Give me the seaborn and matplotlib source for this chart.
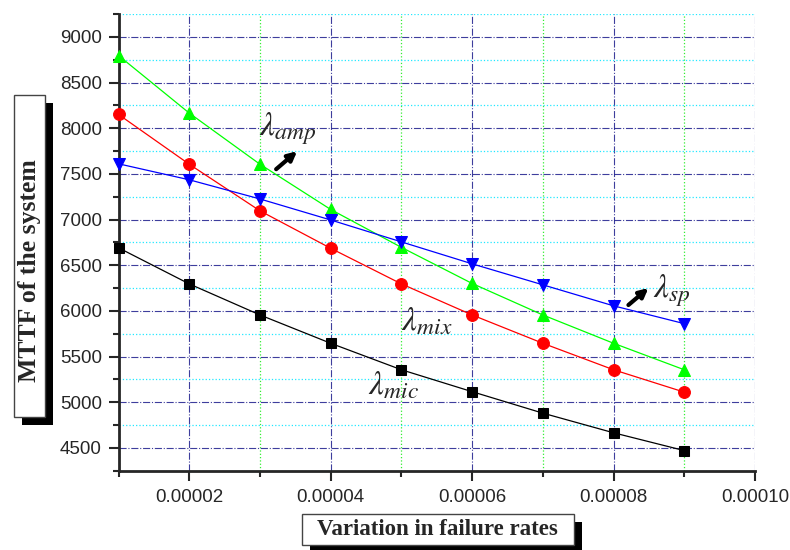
import matplotlib
matplotlib.use("Agg")
import matplotlib.pyplot as plt
import matplotlib.ticker as mticker
from matplotlib.patches import Rectangle
import seaborn as sns

# failure-rate variation (x) and MTTF of each component case
rates = [0.00001, 0.00002, 0.00003, 0.00004, 0.00005, 0.00006, 0.00007, 0.00008, 0.00009]
mttf_mic = [6690, 6295, 5955, 5645, 5355, 5115, 4880, 4665, 4470]
mttf_mix = [8150, 7605, 7095, 6685, 6295, 5955, 5645, 5355, 5110]
mttf_amp = [8795, 8165, 7605, 7110, 6695, 6300, 5955, 5645, 5355]
mttf_sp = [7610, 7435, 7225, 6995, 6755, 6515, 6285, 6055, 5860]

sns.set_style("ticks")
plt.rcParams["font.family"] = ["Liberation Sans", "DejaVu Sans"]
plt.rcParams["mathtext.fontset"] = "stix"

fig = plt.figure(figsize=(7.9, 5.5), dpi=100)
ax = fig.add_axes([0.1501, 0.1442, 0.9557 - 0.1501, 0.9745 - 0.1442])

series = [
    (mttf_mic, "#000000", "s", 7.5),
    (mttf_mix, "#ff0000", "o", 8.5),
    (mttf_amp, "#00ff00", "^", 8.5),
    (mttf_sp, "#0000ff", "v", 8.5),
]
for vals, col, mk, ms in series:
    sns.lineplot(x=rates, y=vals, ax=ax, color=col, lw=0.9, marker=mk,
                 markersize=ms, markeredgecolor=col, zorder=3, clip_on=False)

ax.set_xlim(0.00001, 0.0001)
ax.set_ylim(4250, 9250)
ax.xaxis.set_major_locator(mticker.FixedLocator([0.00002, 0.00004, 0.00006, 0.00008, 0.0001]))
ax.xaxis.set_minor_locator(mticker.FixedLocator([0.00001, 0.00003, 0.00005, 0.00007, 0.00009]))
ax.xaxis.set_major_formatter(mticker.FuncFormatter(lambda v, p: f"{v:.5f}"))
ax.yaxis.set_major_locator(mticker.MultipleLocator(500))
ax.yaxis.set_minor_locator(mticker.MultipleLocator(250))

ax.grid(which="major", color="#1c1c8c", linestyle="-.", linewidth=0.8, alpha=0.85)
ax.yaxis.grid(which="minor", color="#22e8ff", linestyle=":", linewidth=0.9)
ax.xaxis.grid(which="minor", color="#33ee33", linestyle=":", linewidth=0.9)
ax.set_axisbelow(True)

sns.despine(ax=ax)
for s in ["left", "bottom"]:
    ax.spines[s].set_linewidth(2)
ax.tick_params(which="major", direction="out", length=7, width=1.5, labelsize=13.5, pad=5)
ax.tick_params(which="minor", direction="out", length=4, width=1.5)
ax.tick_params(axis="x", which="major", pad=6)
ax.set_xlabel("")
ax.set_ylabel("")

# curve labels with arrows
lab = dict(fontsize=24, ha="center", va="center")
arr = dict(arrowstyle="-|>", lw=3, color="black", mutation_scale=13, shrinkA=0, shrinkB=0)
ax.text(0.0000339, 7990, r"$\lambda_{amp}$", **lab)
ax.annotate("", xy=(0.00003525, 7748), xytext=(0.00003228, 7551), arrowprops=arr)
ax.text(0.0000882, 6225, r"$\lambda_{sp}$", **lab)
ax.annotate("", xy=(0.00008493, 6250), xytext=(0.0000821, 6064), arrowprops=arr)
ax.text(0.00005365, 5885, r"$\lambda_{mix}$", **lab)
ax.text(0.00004884, 5175, r"$\lambda_{mic}$", **lab)

# boxed axis titles with drop shadow
W, H = 790, 550
def box(x0, y0, x1, y1, off=7.5):
    fig.patches.append(Rectangle(((x0 + off) / W, 1 - (y1 + off) / H), (x1 - x0) / W, (y1 - y0) / H,
                                 transform=fig.transFigure, facecolor="black", edgecolor="none", zorder=1))
    fig.patches.append(Rectangle((x0 / W, 1 - y1 / H), (x1 - x0) / W, (y1 - y0) / H,
                                 transform=fig.transFigure, facecolor="white", edgecolor="#444444",
                                 lw=1, zorder=2))

box(14, 95, 45, 417)
box(302, 514, 574, 545)
tfont = dict(family=["Liberation Serif", "DejaVu Serif"], fontweight="bold", zorder=3)
fig.text(29.5 / W, 1 - 271 / H, "MTTF of the system", rotation=90, ha="center", va="center",
         fontsize=18.5, **tfont)
fig.text(437.5 / W, 1 - 529.5 / H, "Variation in failure rates", ha="center", va="center",
         fontsize=16.5, **tfont)

fig.savefig("out.png", dpi=100)
